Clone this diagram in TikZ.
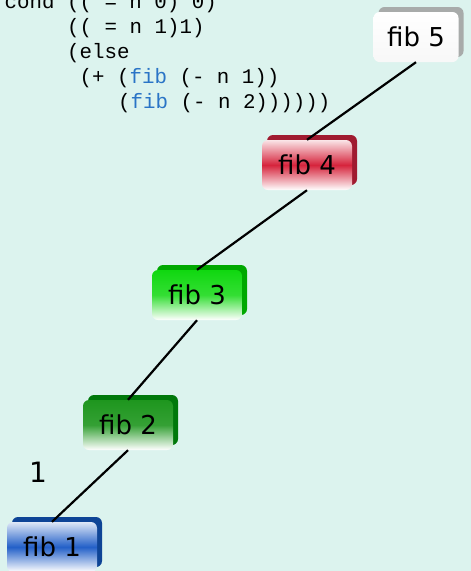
\documentclass[tikz,border=0pt]{standalone}
\usepackage{fontspec}
\setmainfont{DejaVu Sans}
\newfontfamily\codefont{Liberation Mono}
\usetikzlibrary{shadows}
\definecolor{Mint}{HTML}{DCF3EE}
\definecolor{CodeBlue}{HTML}{2A74C6}
\definecolor{EdgeGray}{HTML}{A8ABAA}
\definecolor{Crimson}{HTML}{D6243C}
\definecolor{DarkCrimson}{HTML}{A01B30}
\definecolor{Lime}{HTML}{10D810}
\definecolor{DarkLime}{HTML}{00A800}
\definecolor{Grass}{HTML}{1E961E}
\definecolor{DarkGrass}{HTML}{00780A}
\definecolor{Royal}{HTML}{2360C8}
\definecolor{DarkRoyal}{HTML}{0E4496}
\tikzset{
  fibbox/.style={rounded corners=6pt,minimum width=90pt,minimum height=50pt,inner sep=0pt,
                 font=\fontsize{26}{26}\selectfont,
                 general shadow={shadow xshift=5pt,shadow yshift=5pt,fill=#1}},
  whitebox/.style={fibbox=EdgeGray,top color=white,bottom color=white!94!gray},
  redbox/.style={fibbox=DarkCrimson,top color=Crimson!12,bottom color=white,middle color=Crimson},
  limebox/.style={fibbox=DarkLime,top color=Lime,bottom color=white,middle color=Lime!85},
  greenbox/.style={fibbox=DarkGrass,top color=Grass,bottom color=white,middle color=Grass!90},
  bluebox/.style={fibbox=DarkRoyal,top color=Royal!15,bottom color=white,middle color=Royal},
  code/.style={anchor=base west,inner sep=0pt,font=\codefont\fontsize{20.8}{25}\selectfont},
  call/.style={line width=2.2pt,draw=black},
  note/.style={font=\fontsize{28}{28}\selectfont}
}
\newcommand{\fibname}{\textcolor{CodeBlue}{fib}}

\begin{document}
\begin{tikzpicture}[x=1pt,y=-1pt]
  \clip (0,0) rectangle (471,571);
  \fill[Mint] (0,0) rectangle (471,571);
  % the scheme source
  \node[code] (line1) at (4.5,8) {cond (( = n 0) 0)};
  \node[code] (line2) at (67,33) {(( = n 1)1)};
  \node[code] (line3) at (67,58) {(else};
  \node[code] (line4) at (79.5,83) {(+ (\fibname{} (- n 1))};
  \node[code] (line5) at (118,108) {(\fibname{} (- n 2))))))};
  % the call chain
  \node[whitebox,minimum width=85pt] (fib5) at (416,37) {fib 5};
  \node[redbox] (fib4) at (307,165) {fib 4};
  \node[limebox] (fib3) at (197,295) {fib 3};
  \node[greenbox] (fib2) at (128,425) {fib 2};
  \node[bluebox] (fib1) at (52,547) {fib 1};
  \draw[call] (fib5.south) -- (fib4.north);
  \draw[call] (fib4.south) -- (fib3.north);
  \draw[call] (fib3.south) -- (fib2.north);
  \draw[call] (fib2.south) -- (fib1.north);
  \node[note] (result) at (38,472) {1};
\end{tikzpicture}
\end{document}
